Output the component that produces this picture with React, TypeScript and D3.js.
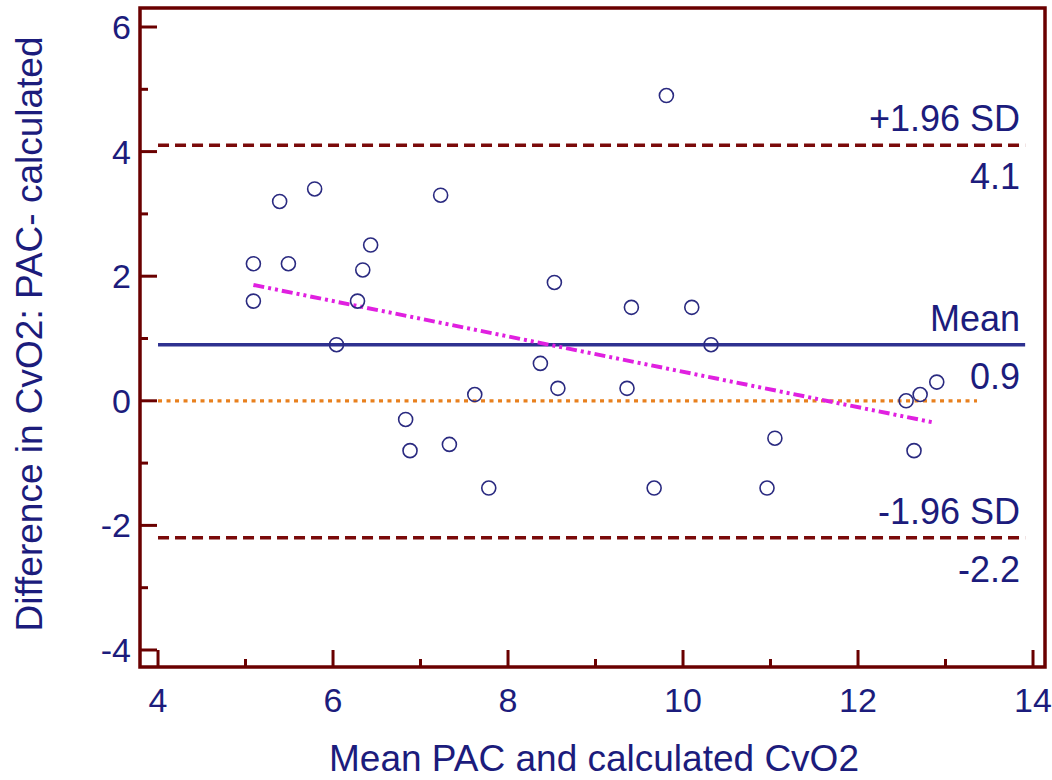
import React, { useEffect, useRef } from "react";
import * as d3 from "d3";

// Bland-Altman data: mean of PAC and calculated CvO2 vs difference
const meanVals = [5.09, 5.09, 5.39, 5.49, 5.79, 6.04, 6.28, 6.34, 6.43, 6.83, 6.88, 7.23, 7.33, 7.62, 7.78,
  8.37, 8.53, 8.57, 9.36, 9.41, 9.67, 9.81, 10.1, 10.32, 10.96, 11.05, 12.55, 12.64, 12.71, 12.9];
const diffVals = [2.2, 1.6, 3.2, 2.2, 3.4, 0.9, 1.6, 2.1, 2.5, -0.3, -0.8, 3.3, -0.7, 0.1, -1.4,
  0.6, 1.9, 0.2, 0.2, 1.5, -1.4, 4.9, 1.5, 0.9, -1.4, -0.6, 0.0, -0.8, 0.1, 0.3];

const xTicks = [4, 6, 8, 10, 12, 14];
const yTicks = [-4, -2, 0, 2, 4, 6];

const refValues = [4.1, 0.9, -2.2];
const refNames = ["+1.96 SD", "Mean", "-1.96 SD"];
const refLabels = ["4.1", "0.9", "-2.2"];

const regX = [5.09, 12.87];
const regY = [1.86, -0.35];

const TEXT = "#1c1c7c";
const FRAME = "#6a0000";
const FONT = "'Liberation Sans', Arial, sans-serif";

export default function App() {
  const ref = useRef<SVGSVGElement>(null);

  useEffect(() => {
    const svg = d3.select(ref.current);
    svg.selectAll("*").remove();

    const left = 140, right = 1045, top = 8, bottom = 667;
    const x = d3.scaleLinear().domain([3.794, 14.137]).range([left, right]);
    const y = d3.scaleLinear().domain([-4.273, 6.305]).range([bottom, top]);

    const g = svg.append("g");

    // zero line
    g.append("line")
      .attr("x1", x(4)).attr("x2", x(13.36))
      .attr("y1", y(0)).attr("y2", y(0))
      .attr("stroke", "#e8801e").attr("stroke-width", 3.2)
      .attr("stroke-dasharray", "4,4.5");

    // reference lines
    refValues.forEach((v, i) => {
      const isMean = i === 1;
      g.append("line")
        .attr("x1", x(4)).attr("x2", x(13.91))
        .attr("y1", y(v)).attr("y2", y(v))
        .attr("stroke", isMean ? "#2e3190" : "#7a0a0a")
        .attr("stroke-width", isMean ? 3.5 : 3.5)
        .attr("stroke-dasharray", isMean ? null : "11,6");
      g.append("text")
        .attr("x", 1020).attr("y", y(v) - 14)
        .attr("text-anchor", "end")
        .attr("font-size", 36).attr("font-family", FONT).attr("fill", TEXT)
        .text(refNames[i]);
      g.append("text")
        .attr("x", 1020).attr("y", y(v) + 44)
        .attr("text-anchor", "end")
        .attr("font-size", 36).attr("font-family", FONT).attr("fill", TEXT)
        .text(refLabels[i]);
    });

    // regression line
    g.append("line")
      .attr("x1", x(regX[0])).attr("y1", y(regY[0]))
      .attr("x2", x(regX[1])).attr("y2", y(regY[1]))
      .attr("stroke", "#e020e0").attr("stroke-width", 4)
      .attr("stroke-dasharray", "11,4,3,4,3,4");

    // points
    g.selectAll(".pt")
      .data(meanVals.map((m, i) => ({ m, d: diffVals[i] })))
      .join("circle")
      .attr("class", "pt")
      .attr("cx", p => x(p.m)).attr("cy", p => y(p.d))
      .attr("r", 7)
      .attr("fill", "none").attr("stroke", "#2a2a80").attr("stroke-width", 1.6);

    // frame
    g.append("rect")
      .attr("x", left).attr("y", top)
      .attr("width", right - left).attr("height", bottom - top)
      .attr("fill", "none").attr("stroke", FRAME).attr("stroke-width", 3.5);

    // x ticks
    d3.range(4, 15).forEach(v => {
      const len = v % 2 === 0 ? 17 : 8;
      g.append("line")
        .attr("x1", x(v)).attr("x2", x(v))
        .attr("y1", bottom).attr("y2", bottom - len)
        .attr("stroke", FRAME).attr("stroke-width", 3);
    });
    g.selectAll(".xt").data(xTicks).join("text")
      .attr("class", "xt")
      .attr("x", d => x(d)).attr("y", 712)
      .attr("text-anchor", "middle")
      .attr("font-size", 34).attr("font-family", FONT).attr("fill", TEXT)
      .text(d => d);

    // y ticks
    d3.range(-4, 7).forEach(v => {
      const len = v % 2 === 0 ? 17 : 8;
      g.append("line")
        .attr("x1", left).attr("x2", left + len)
        .attr("y1", y(v)).attr("y2", y(v))
        .attr("stroke", FRAME).attr("stroke-width", 3);
    });
    g.selectAll(".yt").data(yTicks).join("text")
      .attr("class", "yt")
      .attr("x", 131).attr("y", d => y(d) + 12)
      .attr("text-anchor", "end")
      .attr("font-size", 34).attr("font-family", FONT).attr("fill", TEXT)
      .text(d => d);

    // axis titles
    g.append("text")
      .attr("x", 594).attr("y", 771)
      .attr("text-anchor", "middle")
      .attr("font-size", 37).attr("font-family", FONT).attr("fill", TEXT)
      .text("Mean PAC and calculated CvO2");

    g.append("text")
      .attr("transform", `translate(42, 334) rotate(-90)`)
      .attr("text-anchor", "middle")
      .attr("font-size", 37).attr("font-family", FONT).attr("fill", TEXT)
      .text("Difference in CvO2: PAC- calculated");
  }, []);

  return (
    <svg ref={ref} width={1052} height={780}
      style={{ position: "absolute", left: 0, top: 0, background: "#fff" }} />
  );
}
